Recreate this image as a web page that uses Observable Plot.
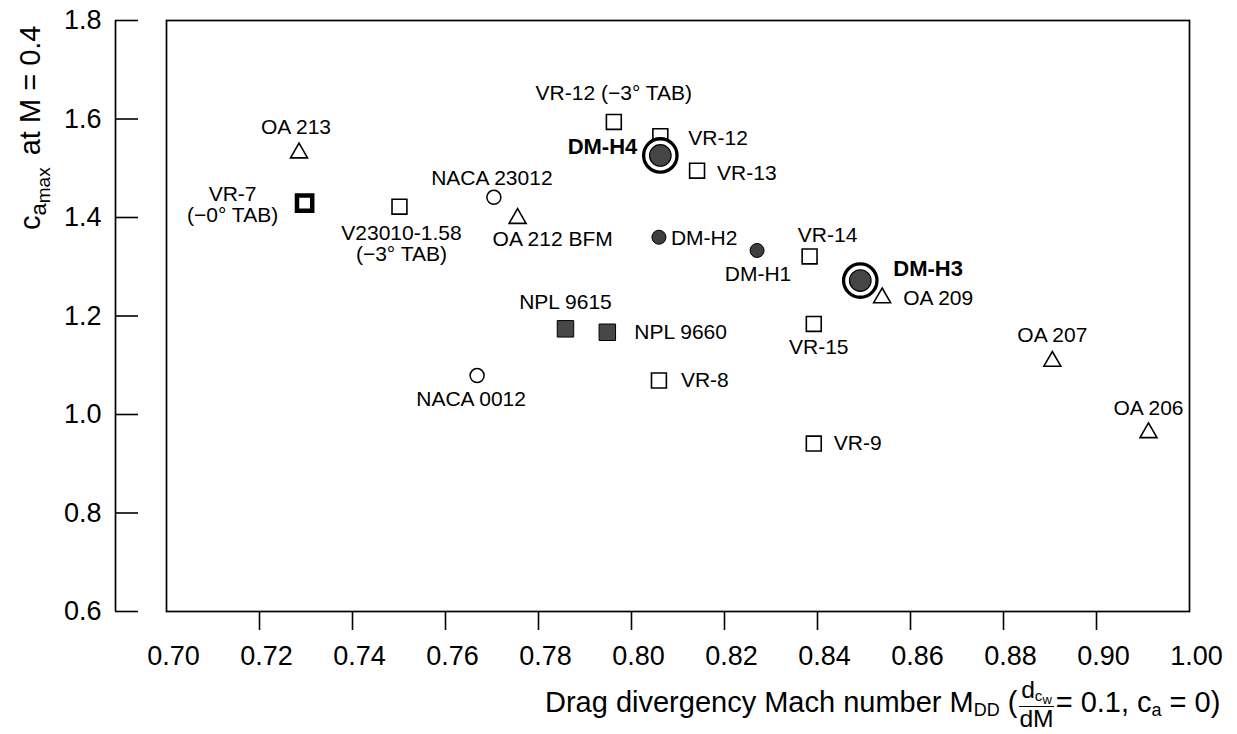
<!DOCTYPE html>
<html>
<head>
<meta charset="utf-8">
<script src="https://cdn.jsdelivr.net/npm/d3@7"></script>
<script src="https://cdn.jsdelivr.net/npm/@observablehq/plot@0.6"></script>
<style>
  html, body { margin: 0; padding: 0; background: #fff; }
  #wrap { position: relative; width: 1237px; height: 734px; font-family: "Liberation Sans", Arial, Helvetica, sans-serif; color: #000; }
  #xlabel { position: absolute; left: 545px; top: 678px; font-size: 29px; white-space: nowrap; line-height: 1; }
  #xlabel sub.s1 { font-size: 0.62em; vertical-align: -0.22em; }
  #xlabel sub.s2 { font-size: 0.85em; vertical-align: -0.2em; }
  #xlabel .frac { display: inline-block; vertical-align: middle; text-align: center; font-size: 0.85em; line-height: 0.95; margin: 0 2px; }
  #xlabel .num { display: block; border-bottom: 1.5px solid #000; padding: 0 1px; }
  #xlabel .den { display: block; }
</style>
</head>
<body>
<div id="wrap"></div>
<script>
// ---------- data ----------
const labels = [
  "OA 213", "VR-7\n(−0° TAB)", "V23010-1.58\n(−3° TAB)", "NACA 23012", "OA 212 BFM",
  "VR-12 (−3° TAB)", "VR-12", "DM-H4", "VR-13", "DM-H2", "DM-H1", "VR-14", "DM-H3",
  "OA 209", "VR-15", "NPL 9615", "NPL 9660", "NACA 0012", "VR-8", "VR-9", "OA 207", "OA 206"
];
const mdd = [
  0.7285, 0.7297, 0.7501, 0.7704, 0.7755,
  0.7962, 0.8062, 0.8062, 0.8141, 0.8059, 0.8270, 0.8383, 0.8492,
  0.8539, 0.8392, 0.7858, 0.7948, 0.7668, 0.8059, 0.8392, 0.8905, 0.9559
];
const camax = [
  1.531, 1.429, 1.422, 1.441, 1.398,
  1.594, 1.565, 1.526, 1.495, 1.360, 1.333, 1.321, 1.272,
  1.237, 1.184, 1.174, 1.167, 1.079, 1.069, 0.941, 1.108, 0.963
];
const family = [
  "OA", "VR ref", "VR", "NACA", "OA",
  "VR", "VR", "DM-H new", "VR", "DM-H", "DM-H", "VR", "DM-H new",
  "OA", "VR", "NPL", "NPL", "NACA", "VR", "VR", "OA", "OA"
];
const xTickLines = [0.72, 0.74, 0.76, 0.78, 0.80, 0.82, 0.84, 0.86, 0.88, 0.90];
const xTickLabels = [0.70, 0.72, 0.74, 0.76, 0.78, 0.80, 0.82, 0.84, 0.86, 0.88, 0.90, 1.00];
const yTicks = [0.6, 0.8, 1.0, 1.2, 1.4, 1.6, 1.8];

// ---------- layout / style ----------
const W = 1237, H = 734;
const mL = 166, mR = 48, mT = 20, mB = 123;
const step = (W - mL - mR) / 11; // one tick interval; 0.90–1.00 is a compressed (broken) interval
const font = "'Liberation Sans', Arial, Helvetica, sans-serif";

const familyStyle = {
  "VR":      {symbol: "square",   r: 8.4, fill: "white",   stroke: "black", strokeWidth: 1.6},
  "VR ref":  {symbol: "square",   r: 8.6, fill: "white",   stroke: "black", strokeWidth: 4.5},
  "OA":      {symbol: "triangle", r: 6.3, fill: "white",   stroke: "black", strokeWidth: 1.6},
  "NACA":    {symbol: "circle",   r: 7,   fill: "white",   stroke: "black", strokeWidth: 1.5},
  "NPL":     {symbol: "square",   r: 9.3, fill: "#474747", stroke: "black", strokeWidth: 1},
  "DM-H":    {symbol: "circle",   r: 7,   fill: "#3f3f3f", stroke: "black", strokeWidth: 1}
};

const placement = {
  "OA 213":          {dx: -3,  dy: -26, a: "middle"},
  "VR-7":            {dx: -72, dy: 2,   a: "middle"},
  "V23010-1.58":     {dx: 2,   dy: 37,  a: "middle"},
  "NACA 23012":      {dx: -2,  dy: -19, a: "middle"},
  "OA 212 BFM":      {dx: -25, dy: 21,  a: "start"},
  "VR-12 (−3° TAB)": {dx: 0,   dy: -29, a: "middle"},
  "VR-12":           {dx: 28,  dy: 2,   a: "start"},
  "DM-H4":           {dx: -23, dy: -8,  a: "end", bold: true},
  "VR-13":           {dx: 20,  dy: 3,   a: "start"},
  "DM-H2":           {dx: 12,  dy: 1,   a: "start"},
  "DM-H1":           {dx: 1,   dy: 24,  a: "middle"},
  "VR-14":           {dx: 18,  dy: -21, a: "middle"},
  "DM-H3":           {dx: 33,  dy: -12, a: "start", bold: true},
  "OA 209":          {dx: 21,  dy: 0,   a: "start"},
  "VR-15":           {dx: 5,   dy: 23,  a: "middle"},
  "NPL 9615":        {dx: 0,   dy: -27, a: "middle"},
  "NPL 9660":        {dx: 27,  dy: 0,   a: "start"},
  "NACA 0012":       {dx: -6,  dy: 24,  a: "middle"},
  "VR-8":            {dx: 22,  dy: 0,   a: "start"},
  "VR-9":            {dx: 20,  dy: 0,   a: "start"},
  "OA 207":          {dx: 0,   dy: -26, a: "middle"},
  "OA 206":          {dx: 0,   dy: -24, a: "middle"}
};

const rows = labels.map((label, i) => ({
  label, name: label.split("\n")[0], x: mdd[i], y: camax[i], family: family[i]
}));

const dotMarks = Object.entries(familyStyle).map(([fam, s]) =>
  Plot.dot(rows.filter(d => d.family === fam), {x: "x", y: "y", ...s})
);
const highlight = rows.filter(d => d.family === "DM-H new");

const labelMarks = rows.map(d => {
  const p = placement[d.name];
  return Plot.text([d], {
    x: "x", y: "y", text: "label", dx: p.dx, dy: p.dy, textAnchor: p.a,
    fontSize: p.bold ? 22 : 21, fontWeight: p.bold ? "bold" : "normal",
    lineHeight: 1.0, fill: "black"
  });
});

const plot = Plot.plot({
  width: W, height: H,
  marginLeft: mL, marginRight: mR, marginTop: mT, marginBottom: mB,
  style: {fontFamily: font, fontSize: "21px", background: "white", color: "black", overflow: "visible"},
  x: {type: "linear", domain: [0.70, 0.90, 1.00], range: [mL, mL + 10 * step, W - mR]},
  y: {type: "linear", domain: [0.6, 1.8]},
  marks: [
    Plot.frame({stroke: "black", strokeWidth: 1.7}),
    Plot.ruleX([0.70], {dx: -51, stroke: "black", strokeWidth: 1.7}),
    Plot.axisY(yTicks, {anchor: "left", tickSize: 23, dx: -28, tickPadding: 14, fontSize: 27,
      tickFormat: d3.format(".1f"), strokeWidth: 1.6, label: null}),
    Plot.axisX(xTickLines, {anchor: "bottom", tickSize: 19, tickFormat: () => "", strokeWidth: 1.6, label: null}),
    Plot.axisX(xTickLabels, {anchor: "bottom", tickSize: 0, tickPadding: 34, dx: 7, fontSize: 27,
      tickFormat: d3.format(".2f"), label: null}),
    ...dotMarks,
    Plot.dot(highlight, {x: "x", y: "y", r: 16.7, fill: "white", stroke: "black", strokeWidth: 3.3}),
    Plot.dot(highlight, {x: "x", y: "y", r: 10.8, fill: "#454545", stroke: "black", strokeWidth: 1.2}),
    ...labelMarks
  ]
});

// y-axis title with nested subscripts
const svg = d3.select(plot);
const t = svg.append("text")
  .attr("transform", "translate(40,230) rotate(-90)")
  .attr("text-anchor", "start")
  .attr("font-size", 29).attr("fill", "black").attr("font-family", font);
t.append("tspan").text("c");
t.append("tspan").attr("font-size", 22).attr("dy", 6).text("a");
t.append("tspan").attr("font-size", 19).attr("dy", 4).text("max");
t.append("tspan").attr("dy", -10).attr("dx", 4).text(" at M = 0.4");

const wrap = document.getElementById("wrap");
wrap.appendChild(plot);

// x-axis title (HTML, below the frame)
const xl = document.createElement("div");
xl.id = "xlabel";
xl.innerHTML = 'Drag divergency Mach number M<sub class="s1">DD</sub> (<span class="frac"><span class="num">d<sub class="s1">c<sub class="s2">w</sub></sub></span><span class="den">dM</span></span>= 0.1, c<sub class="s1">a</sub> = 0)';
wrap.appendChild(xl);
</script>
</body>
</html>
